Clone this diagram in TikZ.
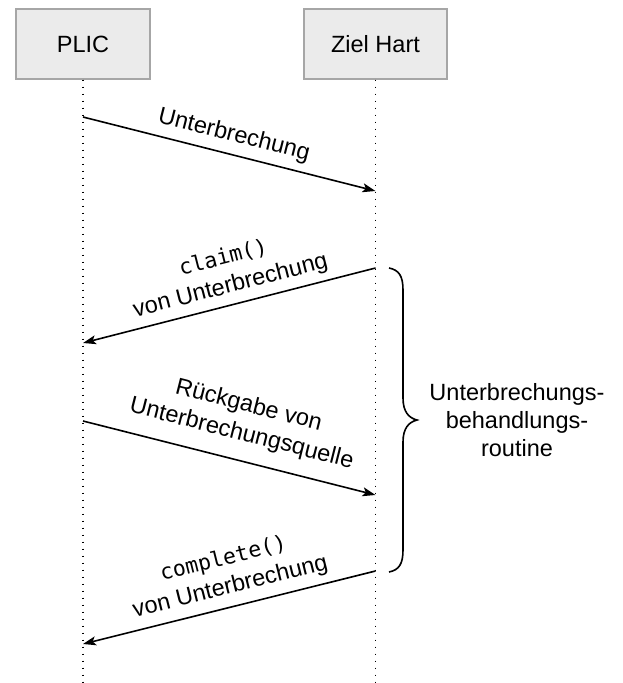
\documentclass[tikz,border=0pt]{standalone}
\usepackage{fontspec}
\setmainfont{Liberation Sans}
\newfontfamily\codefont{DejaVu Sans Mono}
\usetikzlibrary{arrows.meta}
\definecolor{boxfill}{HTML}{EBEBEB}
\definecolor{boxline}{HTML}{A6A6A6}
\newcommand{\codetext}[1]{{\codefont\fontsize{21.5}{24}\selectfont #1}}
\begin{document}
\begin{tikzpicture}[x=1pt,y=-1pt,
  actor/.style={draw=boxline, fill=boxfill, line width=1.2pt, minimum height=70pt,
    font=\fontsize{23.5}{28}\selectfont, inner sep=0pt},
  lifeline/.style={line width=1.6pt, dash pattern=on 1.6pt off 5.4pt},
  msg/.style={line width=1.6pt, -{Stealth[length=13pt,width=9pt,inset=3pt]}},
  lbl/.style={font=\fontsize{23.5}{29}\selectfont, align=center, sloped, pos=0.52,
    anchor=south, inner sep=0pt},
  bracestyle/.style={line width=1.6pt}
]
\useasboundingbox (0,0) rectangle (622,683);

% participants
\node[actor, minimum width=134pt] (plic) at (83,44) {PLIC};
\node[actor, minimum width=143pt] (hart) at (375.5,44) {Ziel Hart};

% lifelines
\coordinate (plicend) at (83,683);
\coordinate (hartend) at (375.5,683);
\draw[lifeline] (plic.south) -- (plicend);
\draw[lifeline] (hart.south) -- (hartend);

% message anchor points on the lifelines
\coordinate (p1) at (83,117);    \coordinate (h1) at (375.5,191);
\coordinate (h2) at (375.5,268); \coordinate (p2) at (83,343);
\coordinate (p3) at (83,421);    \coordinate (h3) at (375.5,495);
\coordinate (h4) at (375.5,571); \coordinate (p4) at (83,644);

% messages
\draw[msg] (p1) -- (h1);
\path (p1) -- (h1) node[lbl, pos=0.5, yshift=8pt] {Unterbrechung};

\draw[msg] (h2) -- (p2);
\path (p2) -- (h2) node[lbl, yshift=7pt] {\codetext{claim()}\\von Unterbrechung};

\draw[msg] (p3) -- (h3);
\path (p3) -- (h3) node[lbl, yshift=15pt] {Rückgabe von\\Unterbrechungsquelle};

\draw[msg] (h4) -- (p4);
\path (p4) -- (h4) node[lbl, yshift=8pt] {\codetext{complete()}\\von Unterbrechung};

% curly brace around the handler
\draw[bracestyle] (389,268) .. controls (399,270) and (403,276) .. (403,290)
  -- (403,398) .. controls (403,412) and (409,418) .. (417,420)
  .. controls (409,422) and (403,428) .. (403,442)
  -- (403,550) .. controls (403,564) and (399,570) .. (389,572);
\node[font=\fontsize{23.5}{28}\selectfont, align=center] (isr) at (517,420)
  {Unterbrechungs-\\behandlungs-\\routine};
\end{tikzpicture}
\end{document}
